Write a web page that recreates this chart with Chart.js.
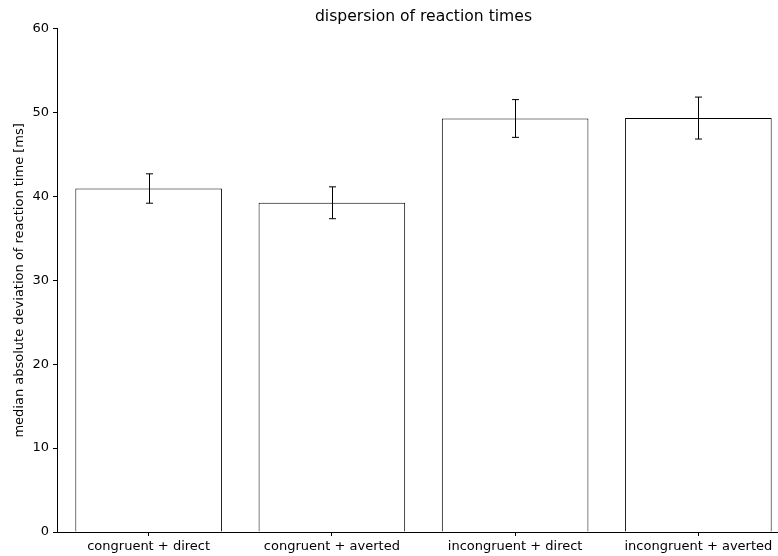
<!DOCTYPE html>
<html>
<head>
<meta charset="utf-8">
<script src="https://cdn.jsdelivr.net/npm/chart.js@4/dist/chart.umd.min.js"></script>
<style>
  html, body { margin: 0; padding: 0; background: #fff; overflow: hidden; }
  #wrap { width: 800px; height: 556px; }
</style>
</head>
<body>
<div id="wrap"><canvas id="chart" width="800" height="556"></canvas></div>
<script>
// --- data ---
const categories = ['congruent + direct', 'congruent + averted', 'incongruent + direct', 'incongruent + averted'];
const madValues = [40.95, 39.25, 49.3, 49.35];
const errLow = [39.2, 37.35, 47.05, 46.85];
const errHigh = [42.7, 41.15, 51.55, 51.85];
const yTicks = [0, 10, 20, 30, 40, 50, 60];

const FONT = 'DejaVu Sans';

// error bars drawn through the scales
const errorBarPlugin = {
    id: 'errorBars',
    afterDatasetsDraw(chart) {
        const ctx = chart.ctx;
        const x = chart.scales.x, y = chart.scales.y;
        ctx.save();
        ctx.strokeStyle = '#000';
        ctx.lineWidth = 1;
        for (let i = 0; i < madValues.length; i++) {
            const px = Math.round(x.getPixelForValue(i)) + 0.5;
            const top = y.getPixelForValue(errHigh[i]);
            const bot = y.getPixelForValue(errLow[i]);
            ctx.beginPath();
            ctx.moveTo(px, top); ctx.lineTo(px, bot);
            ctx.moveTo(px - 3.5, top); ctx.lineTo(px + 3.5, top);
            ctx.moveTo(px - 3.5, bot); ctx.lineTo(px + 3.5, bot);
            ctx.stroke();
        }
        ctx.restore();
    }
};

new Chart(document.getElementById('chart'), {
    type: 'bar',
    data: {
        labels: categories,
        datasets: [{
            data: madValues,
            backgroundColor: '#ffffff',
            borderColor: '#000000',
            borderWidth: 1,
            inflateAmount: 0,
            barPercentage: 0.8,
            categoryPercentage: 1.0
        }]
    },
    options: {
        responsive: false,
        animation: false,
        layout: { padding: { left: 0, right: 10, top: 0, bottom: 0 } },
        plugins: {
            legend: { display: false },
            tooltip: { enabled: false },
            title: {
                display: true,
                fullSize: false, // centre over the plot area, not the canvas
                text: 'dispersion of reaction times',
                color: '#000',
                font: { family: FONT, size: 15.6, weight: 'normal' },
                padding: { top: 8, bottom: 2 }
            }
        },
        scales: {
            x: {
                grid: { display: true, offset: false, drawOnChartArea: false, drawTicks: true, tickLength: 4, color: '#000' },
                border: { display: true, color: '#000', width: 1 },
                ticks: { color: '#000', font: { family: FONT, size: 13 }, padding: 3, maxRotation: 0 },
                afterFit: (s) => { s.height = 24; }
            },
            y: {
                min: 0,
                max: 60,
                afterBuildTicks: (s) => { s.ticks = yTicks.map(v => ({ value: v })); },
                grid: { display: true, drawOnChartArea: false, drawTicks: true, tickLength: 4, color: '#000' },
                border: { display: true, color: '#000', width: 1 },
                ticks: { color: '#000', font: { family: FONT, size: 13 }, padding: 4 },
                title: {
                    display: true,
                    text: 'median absolute deviation of reaction time [ms]',
                    color: '#000',
                    font: { family: FONT, size: 13 },
                    padding: { top: 12, bottom: 0 }
                },
                afterFit: (s) => { s.width = 57; }
            }
        }
    },
    plugins: [errorBarPlugin]
});
</script>
</body>
</html>
